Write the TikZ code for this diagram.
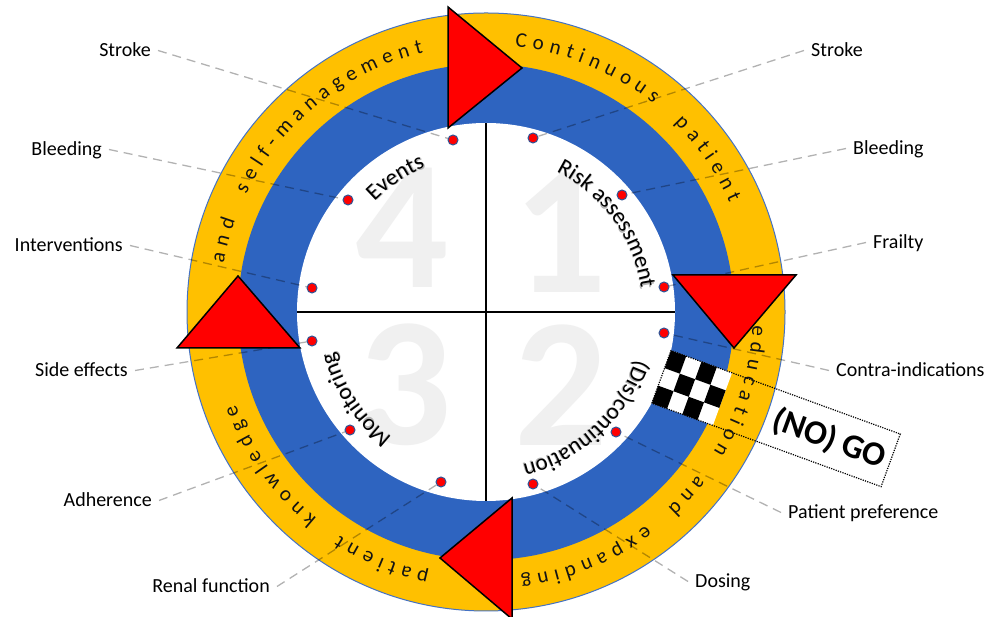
\documentclass[tikz,border=0pt]{standalone}
\usepackage{fontspec}
\setmainfont{Carlito}
\usetikzlibrary{calc}
\definecolor{ringorange}{RGB}{255,192,0}
\definecolor{ringblue}{RGB}{46,100,192}
\definecolor{edgeblue}{RGB}{68,114,196}
\definecolor{dotblue}{RGB}{47,85,151}
\newcommand\ringfont{\fontsize{21}{25}\selectfont}
\newcommand\innerfont{\fontsize{23}{27}\selectfont}
\newcommand\lblfont{\fontsize{20}{24}\selectfont}
\newcommand\rgap{\kern16pt}
\newcommand\igap{\kern5pt}
\newcommand\myLP{(}
\newcommand\myRP{)}
\tikzset{
  arcchar/.style={anchor=base, inner sep=0pt, outer sep=0pt},
  ringtxt/.style={text=black!92},
  innertxt/.style={text=black},
  innershadow/.style={text=black!30, xshift=0.9pt, yshift=-0.9pt},
  leader/.style={draw=black, draw opacity=0.3, line width=1.3pt, dash pattern=on 9pt off 6pt},
  tri/.style={fill=red, draw=black, line width=1.5pt, line join=miter},
  dotnode/.style={circle, fill=red, draw=dotblue, line width=1pt, minimum size=10pt, inner sep=0pt},
  lbl/.style={font=\lblfont, inner xsep=7pt, inner ysep=0pt, text height=13pt, text depth=0pt},
  bignum/.style={font=\bfseries\fontsize{184}{184}\selectfont, text=black!6, inner sep=0pt},
  crossline/.style={draw=black, line width=1.3pt},
  nogobox/.style={draw=black, line width=1.2pt, dash pattern=on 1.2pt off 1.2pt}
}
\newcommand\atmeasure[2]{%
  \setbox0=\hbox{\pgfinterruptpicture#1#2\endpgfinterruptpicture}%
  \xdef\atwid{\the\wd0}%
}
\newcommand\arctext[7]{%
  \gdef\atsum{0}\gdef\atcnt{0}%
  \foreach \ch in {#6}{%
    \atmeasure{#3}{\ch}%
    \pgfmathsetmacro\attmp{\atsum+\atwid}\global\let\atsum\attmp
    \pgfmathsetmacro\attmp{\atcnt+1}\global\let\atcnt\attmp
  }%
  \pgfmathsetmacro\atstart{#1+(\atsum+(\atcnt-1)*#4)/2/#2*180/pi}%
  \global\let\atstartg\atstart
  \gdef\atpos{0}%
  \foreach \ch [count=\ati] in {#6}{%
    \atmeasure{#3}{\ch}%
    \pgfmathsetmacro\atw{\atwid}%
    \pgfmathsetmacro\atang{\atstartg-(\atpos+\atw/2)/#2*180/pi}%
    \node[arcchar, font=#3, rotate=\atang-90, #5] (#7\ati) at (\atang:#2) {\ch};
    \pgfmathsetmacro\attmp{\atpos+\atw+#4}\global\let\atpos\attmp
  }%
}
\begin{document}
\begin{tikzpicture}[x=1pt,y=1pt]
\useasboundingbox (0,0) rectangle (1003,617);
\fill[white] (0,0) rectangle (1003,617);
% ---------- rings (centre frame) ----------
\begin{scope}[shift={(486pt,305pt)}]
  \fill[ringorange, draw=edgeblue, line width=1pt] (0,0) circle (299);
  \fill[ringblue] (0,0) circle (248);
  \fill[white] (0,0) circle (189);
  \node[bignum] (n4) at (-84,84) {4};
  \node[bignum] (n1) at (74,79) {1};
  \node[bignum] (n2) at (75,-73) {2};
  \node[bignum] (n3) at (-81,-73) {3};
  \draw[crossline] (-189,0) -- (189,0);
  \draw[crossline] (0,-189) -- (0,189);
  % checker and (NO) GO box
  \begin{scope}[rotate=-20]
    \fill[white] (187,-29) rectangle (252,27);
    \foreach \c/\r in {0/0,2/0,1/1,3/1,0/2,2/2}
      \fill[black] (187+\c*16.25, 27-\r*18.667) rectangle ++(16.25,-18.667);
    \draw[nogobox] (187,-29) rectangle (431,27);
    \node[transform shape, font=\bfseries\fontsize{34}{40}\selectfont, inner sep=0pt] (nogo) at (366,-2) {(NO) GO};
  \end{scope}
  % ring text
  \arctext{54}{267}{\ringfont}{6.05}{ringtxt}{C,o,n,t,i,n,u,o,u,s,\rgap,p,a,t,i,e,n,t}{ra}
  \arctext{-42.7}{267}{\ringfont}{6.05}{ringtxt}{e,d,u,c,a,t,i,o,n,\rgap,a,n,d,\rgap,e,x,p,a,n,d,i,n,g}{rb}
  \arctext{-131}{267}{\ringfont}{6.05}{ringtxt}{p,a,t,i,e,n,t,\rgap,k,n,o,w,l,e,d,g,e}{rc}
  \arctext{136.5}{267}{\ringfont}{6.05}{ringtxt}{a,n,d,\rgap,s,e,l,f,-,m,a,n,a,g,e,m,e,n,t}{rd}
  % inner labels
  \arctext{124}{157}{\innerfont}{0}{innershadow}{E,v,e,n,t,s}{sa}
  \arctext{36}{157}{\innerfont}{0}{innershadow}{R,i,s,k,\igap,a,s,s,e,s,s,m,e,n,t}{sb}
  \arctext{-47}{157}{\innerfont}{0}{innershadow}{\myLP,D,i,s,\myRP,c,o,n,t,i,n,u,a,t,i,o,n}{sc}
  \arctext{-146}{157}{\innerfont}{0}{innershadow}{M,o,n,i,t,o,r,i,n,g}{sd}
  \arctext{124}{157}{\innerfont}{0}{innertxt}{E,v,e,n,t,s}{ia}
  \arctext{36}{157}{\innerfont}{0}{innertxt}{R,i,s,k,\igap,a,s,s,e,s,s,m,e,n,t}{ib}
  \arctext{-47}{157}{\innerfont}{0}{innertxt}{\myLP,D,i,s,\myRP,c,o,n,t,i,n,u,a,t,i,o,n}{ic}
  \arctext{-146}{157}{\innerfont}{0}{innertxt}{M,o,n,i,t,o,r,i,n,g}{id}
\end{scope}
% ---------- absolute image frame (y down) ----------
\begin{scope}[shift={(0pt,617pt)}, y=-1pt]
  \coordinate (c4a) at (453,140); \coordinate (c4b) at (348,200); \coordinate (c4c) at (312,288);
  \coordinate (c1a) at (533,138); \coordinate (c1b) at (622,195); \coordinate (c1c) at (664,287);
  \coordinate (c2a) at (664,333); \coordinate (c2b) at (616,432); \coordinate (c2c) at (533,484);
  \coordinate (c3a) at (312,341); \coordinate (c3b) at (350,430); \coordinate (c3c) at (441,482);
  % labels
  \node[lbl, anchor=base east] (lS) at (158,57) {Stroke};
  \node[lbl, anchor=base east] (lB) at (109,156) {Bleeding};
  \node[lbl, anchor=base east] (lI) at (130,252) {Interventions};
  \node[lbl, anchor=base east] (lSE) at (135,377) {Side effects};
  \node[lbl, anchor=base east] (lA) at (159,507) {Adherence};
  \node[lbl, anchor=base east] (lR) at (277,593) {Renal function};
  \node[lbl, anchor=base west] (rS) at (804,57) {Stroke};
  \node[lbl, anchor=base west] (rB) at (846,155) {Bleeding};
  \node[lbl, anchor=base west] (rF) at (866,249) {Frailty};
  \node[lbl, anchor=base west] (rC) at (829,377) {Contra-indications};
  \node[lbl, anchor=base west] (rP) at (781,519) {Patient preference};
  \node[lbl, anchor=base west] (rD) at (688,588) {Dosing};
  % leaders
  \draw[leader] (lS.east) -- (c4a);
  \draw[leader] (lB.east) -- (c4b);
  \draw[leader] (lI.east) -- (c4c);
  \draw[leader] (lSE.east) -- (c3a);
  \draw[leader] (lA.east) -- (c3b);
  \draw[leader] (lR.east) -- (c3c);
  \draw[leader] (rS.west) -- (c1a);
  \draw[leader] (rB.west) -- (c1b);
  \draw[leader] (rF.west) -- (c1c);
  \draw[leader] (rC.west) -- (c2a);
  \draw[leader] (rP.west) -- (c2b);
  \draw[leader] (rD.west) -- (c2c);
  % triangles
  \draw[tri] (448,7) -- (448,128) -- (522,68) -- cycle;
  \draw[tri] (673,275) -- (796,275) -- (734,348) -- cycle;
  \draw[tri] (512,498) -- (512,619) -- (440,558) -- cycle;
  \draw[tri] (177,348) -- (300,348) -- (238,276) -- cycle;
  % dots
  \foreach \d in {4a,4b,4c,1a,1b,1c,2a,2b,2c,3a,3b,3c}
    \node[dotnode] (d\d) at (c\d) {};
\end{scope}
\end{tikzpicture}
\end{document}
